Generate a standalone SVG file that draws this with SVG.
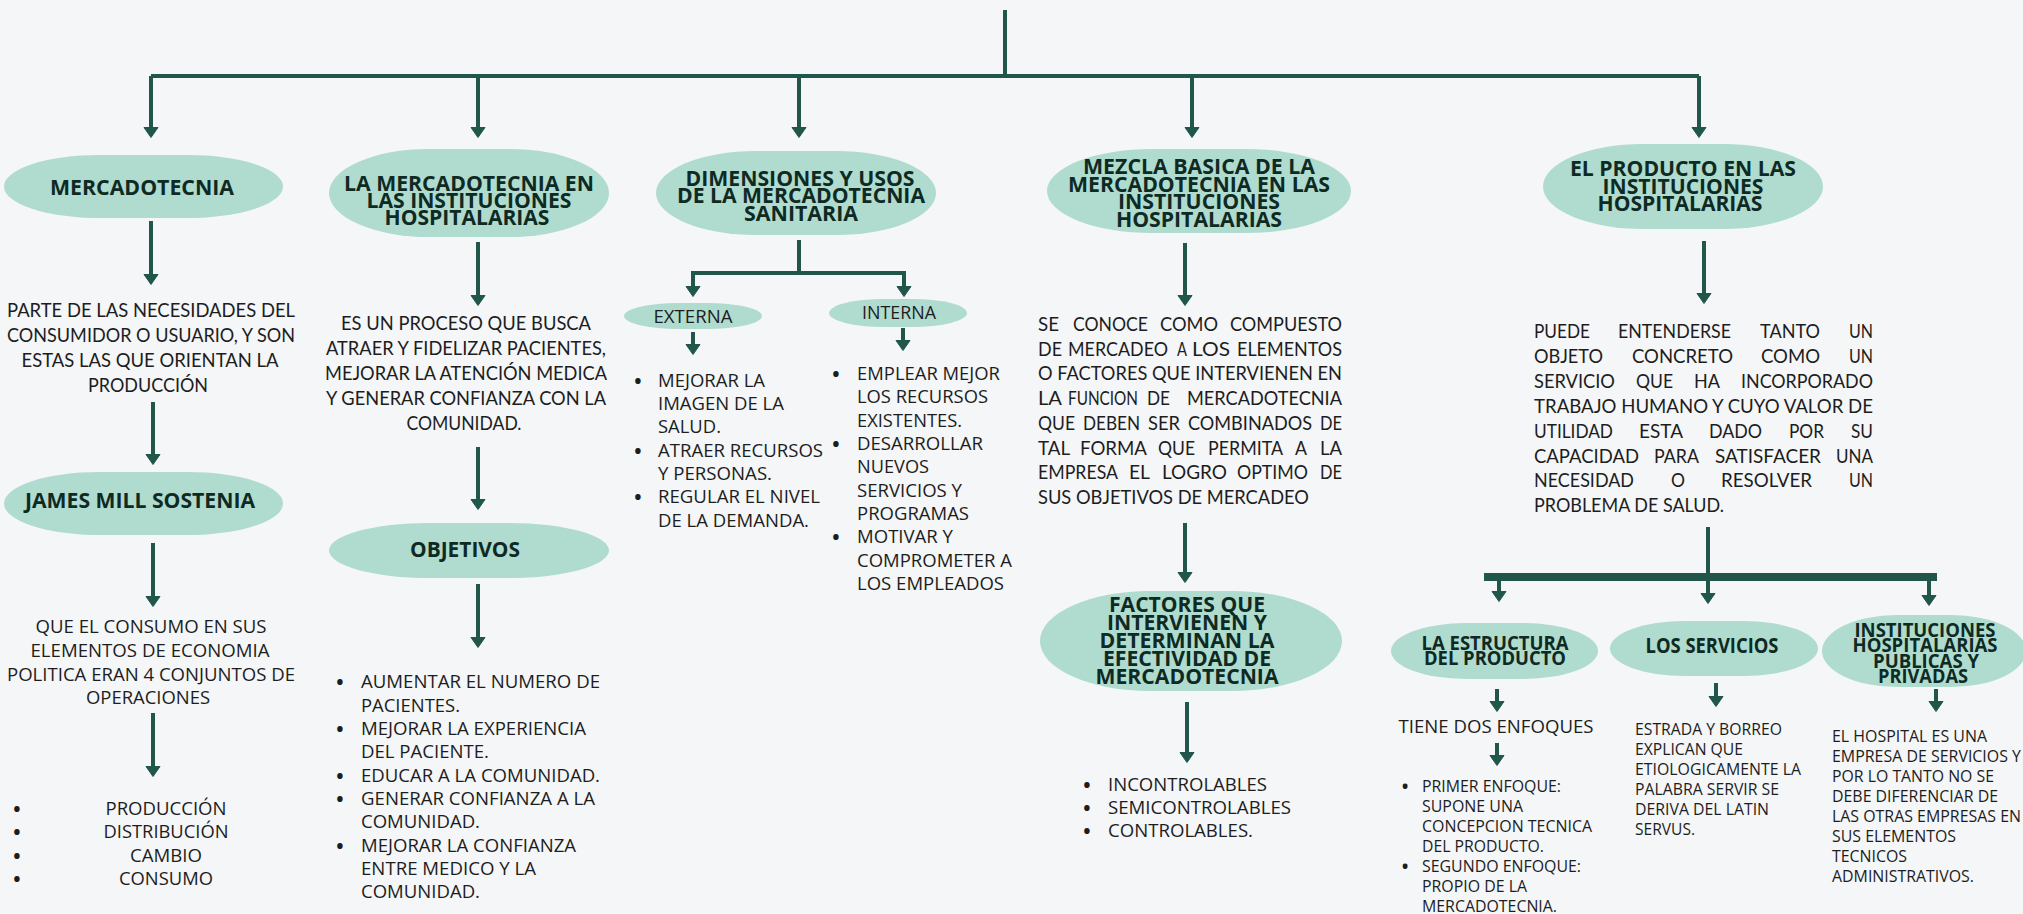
<svg xmlns="http://www.w3.org/2000/svg" width="2023" height="914" viewBox="0 0 2023 914">
<style>
.bg{fill:#f4f6f8}
.nd{fill:#b0dbcf}
.t{font-family:"Open Sans","Liberation Sans",sans-serif;font-weight:700;fill:#0e2a23;text-anchor:middle;font-size:21px}
.ts{font-size:19.5px}
.g{font-family:Lato,"Liberation Sans",sans-serif;font-size:19px;fill:#1d1d1d}
.o{font-family:"Open Sans","Liberation Sans",sans-serif;font-size:18.6px;fill:#1d1d1d}
.s{font-family:"Open Sans","Liberation Sans",sans-serif;font-size:16.4px;fill:#1d1d1d}
.b{font-family:"Open Sans","Liberation Sans",sans-serif;font-size:26px;fill:#1d1d1d;text-anchor:middle}
.bs{font-size:23px}
.m{text-anchor:middle}
.c{stroke:#21564a;stroke-width:4;fill:none}
.a{marker-end:url(#ah)}
</style>
<defs>
<marker id="ah" viewBox="0 0 11 16" refX="3" refY="8" markerWidth="11" markerHeight="16" markerUnits="userSpaceOnUse" orient="auto">
<path d="M0.5,1 L10.5,8 L0.5,15 z" fill="#21564a" stroke="#21564a" stroke-width="1" stroke-linejoin="round"/>
</marker>
</defs>
<rect class="bg" x="0" y="0" width="2023" height="914"/>

<g id="connectors">
<path class="c" d="M1005,10 V76"/>
<path class="c" d="M151,76 H1699"/>
<path class="c a" d="M151,76 V130"/>
<path class="c a" d="M478,76 V130"/>
<path class="c a" d="M799,76 V130"/>
<path class="c a" d="M1192,76 V130"/>
<path class="c a" d="M1699,76 V130"/>
<path class="c a" d="M151,221 V277"/>
<path class="c a" d="M153,402 V457"/>
<path class="c a" d="M153,543 V599"/>
<path class="c a" d="M153,713 V769"/>
<path class="c a" d="M478,242 V298"/>
<path class="c a" d="M478,447 V502"/>
<path class="c a" d="M478,584 V640"/>
<path class="c" d="M799,240 V273"/>
<path class="c a" d="M799,273 H693 V289"/>
<path class="c a" d="M799,273 H904 V289"/>
<path class="c a" d="M693,332 V347"/>
<path class="c a" d="M903,328 V343"/>
<path class="c a" d="M1185,243 V298"/>
<path class="c a" d="M1185,523 V575"/>
<path class="c a" d="M1187,702 V755"/>
<path class="c a" d="M1704,241 V296"/>
<path class="c" d="M1708,527 V577"/>
<rect x="1484" y="573" width="453" height="8" fill="#21564a"/>
<path class="c a" d="M1499,580 V594"/>
<path class="c a" d="M1708,580 V596"/>
<path class="c a" d="M1929,580 V598"/>
<path class="c a" d="M1497,689 V704"/>
<path class="c a" d="M1716,683 V699"/>
<path class="c a" d="M1936,689 V704"/>
<path class="c a" d="M1497,743 V758"/>
</g>

<g id="n-mercadotecnia">
<rect class="nd" x="4" y="155" width="279" height="63" rx="95" ry="31.5"/>
<text class="t" x="142" y="195" textLength="184" lengthAdjust="spacingAndGlyphs">MERCADOTECNIA</text>
</g>
<g id="n-parte">
<text class="g m" x="151" y="317" textLength="288" lengthAdjust="spacingAndGlyphs">PARTE DE LAS NECESIDADES DEL</text>
<text class="g m" x="151" y="342" textLength="288" lengthAdjust="spacingAndGlyphs">CONSUMIDOR O USUARIO, Y SON</text>
<text class="g m" x="150" y="367" textLength="257" lengthAdjust="spacingAndGlyphs">ESTAS LAS QUE ORIENTAN LA</text>
<text class="g m" x="148" y="392" textLength="120" lengthAdjust="spacingAndGlyphs">PRODUCCIÓN</text>
</g>
<g id="n-james">
<rect class="nd" x="4" y="472" width="279" height="63" rx="95" ry="31.5"/>
<text class="t" x="140" y="508" textLength="230" lengthAdjust="spacingAndGlyphs">JAMES MILL SOSTENIA</text>
</g>
<g id="n-que">
<text class="o m" x="151" y="633" textLength="231" lengthAdjust="spacingAndGlyphs">QUE EL CONSUMO EN SUS</text>
<text class="o m" x="150" y="657" textLength="239" lengthAdjust="spacingAndGlyphs">ELEMENTOS DE ECONOMIA</text>
<text class="o m" x="151" y="681" textLength="288" lengthAdjust="spacingAndGlyphs">POLITICA ERAN 4 CONJUNTOS DE</text>
<text class="o m" x="148" y="704" textLength="124" lengthAdjust="spacingAndGlyphs">OPERACIONES</text>
</g>
<g id="n-operaciones">
<text class="b" x="17" y="818">•</text>
<text class="b" x="17" y="841">•</text>
<text class="b" x="17" y="865">•</text>
<text class="b" x="17" y="888">•</text>
<text class="o m" x="166" y="815" textLength="121" lengthAdjust="spacingAndGlyphs">PRODUCCIÓN</text>
<text class="o m" x="166" y="838" textLength="125" lengthAdjust="spacingAndGlyphs">DISTRIBUCIÓN</text>
<text class="o m" x="166" y="862" textLength="72" lengthAdjust="spacingAndGlyphs">CAMBIO</text>
<text class="o m" x="166" y="885" textLength="94" lengthAdjust="spacingAndGlyphs">CONSUMO</text>
</g>

<g id="n-instituciones-hosp">
<rect class="nd" x="329" y="149" width="280" height="88" rx="100" ry="44"/>
<text class="t" x="469" y="191" textLength="250" lengthAdjust="spacingAndGlyphs">LA MERCADOTECNIA EN</text>
<text class="t" x="469" y="208" textLength="205" lengthAdjust="spacingAndGlyphs">LAS INSTITUCIONES</text>
<text class="t" x="467" y="225" textLength="165" lengthAdjust="spacingAndGlyphs">HOSPITALARIAS</text>
</g>
<g id="n-proceso">
<text class="g m" x="466" y="330" textLength="250" lengthAdjust="spacingAndGlyphs">ES UN PROCESO QUE BUSCA</text>
<text class="g m" x="466" y="355" textLength="280" lengthAdjust="spacingAndGlyphs">ATRAER Y FIDELIZAR PACIENTES,</text>
<text class="g m" x="466" y="380" textLength="282" lengthAdjust="spacingAndGlyphs">MEJORAR LA ATENCIÓN MEDICA</text>
<text class="g m" x="466" y="405" textLength="280" lengthAdjust="spacingAndGlyphs">Y GENERAR CONFIANZA CON LA</text>
<text class="g m" x="464" y="430" textLength="115" lengthAdjust="spacingAndGlyphs">COMUNIDAD.</text>
</g>
<g id="n-objetivos">
<rect class="nd" x="329" y="523" width="280" height="55" rx="100" ry="27.5"/>
<text class="t" x="465" y="557" textLength="110" lengthAdjust="spacingAndGlyphs">OBJETIVOS</text>
</g>
<g id="n-objetivos-list">
<text class="b" x="340" y="691">•</text>
<text class="b" x="340" y="738">•</text>
<text class="b" x="340" y="785">•</text>
<text class="b" x="340" y="808">•</text>
<text class="b" x="340" y="855">•</text>
<text class="o" x="361" y="688" textLength="239" lengthAdjust="spacingAndGlyphs">AUMENTAR EL NUMERO DE</text>
<text class="o" x="361" y="712" textLength="99" lengthAdjust="spacingAndGlyphs">PACIENTES.</text>
<text class="o" x="361" y="735" textLength="225" lengthAdjust="spacingAndGlyphs">MEJORAR LA EXPERIENCIA</text>
<text class="o" x="361" y="758" textLength="128" lengthAdjust="spacingAndGlyphs">DEL PACIENTE.</text>
<text class="o" x="361" y="782" textLength="239" lengthAdjust="spacingAndGlyphs">EDUCAR A LA COMUNIDAD.</text>
<text class="o" x="361" y="805" textLength="234" lengthAdjust="spacingAndGlyphs">GENERAR CONFIANZA A LA</text>
<text class="o" x="361" y="828" textLength="119" lengthAdjust="spacingAndGlyphs">COMUNIDAD.</text>
<text class="o" x="361" y="852" textLength="215" lengthAdjust="spacingAndGlyphs">MEJORAR LA CONFIANZA</text>
<text class="o" x="361" y="875" textLength="175" lengthAdjust="spacingAndGlyphs">ENTRE MEDICO Y LA</text>
<text class="o" x="361" y="898" textLength="119" lengthAdjust="spacingAndGlyphs">COMUNIDAD.</text>
</g>

<g id="n-dimensiones">
<rect class="nd" x="656" y="151" width="280" height="84" rx="100" ry="42"/>
<text class="t" x="800" y="186" textLength="229" lengthAdjust="spacingAndGlyphs">DIMENSIONES Y USOS</text>
<text class="t" x="801" y="203" textLength="248" lengthAdjust="spacingAndGlyphs">DE LA MERCADOTECNIA</text>
<text class="t" x="801" y="221" textLength="114" lengthAdjust="spacingAndGlyphs">SANITARIA</text>
</g>
<g id="n-externa">
<rect class="nd" x="624" y="303" width="138" height="26" rx="55" ry="13"/>
<text class="o m" x="693" y="323" font-size="18" textLength="79" lengthAdjust="spacingAndGlyphs">EXTERNA</text>
</g>
<g id="n-interna">
<rect class="nd" x="829" y="299" width="138" height="28" rx="55" ry="14"/>
<text class="o m" x="899" y="319" font-size="18" textLength="74" lengthAdjust="spacingAndGlyphs">INTERNA</text>
</g>
<g id="n-externa-list">
<text class="b" x="638" y="390">•</text>
<text class="b" x="638" y="460">•</text>
<text class="b" x="638" y="506">•</text>
<text class="o" x="658" y="387" textLength="107" lengthAdjust="spacingAndGlyphs">MEJORAR LA</text>
<text class="o" x="658" y="410" textLength="126" lengthAdjust="spacingAndGlyphs">IMAGEN DE LA</text>
<text class="o" x="658" y="433" textLength="63" lengthAdjust="spacingAndGlyphs">SALUD.</text>
<text class="o" x="658" y="457" textLength="165" lengthAdjust="spacingAndGlyphs">ATRAER RECURSOS</text>
<text class="o" x="658" y="480" textLength="114" lengthAdjust="spacingAndGlyphs">Y PERSONAS.</text>
<text class="o" x="658" y="503" textLength="162" lengthAdjust="spacingAndGlyphs">REGULAR EL NIVEL</text>
<text class="o" x="658" y="527" textLength="151" lengthAdjust="spacingAndGlyphs">DE LA DEMANDA.</text>
</g>
<g id="n-interna-list">
<text class="b" x="836" y="383">•</text>
<text class="b" x="836" y="453">•</text>
<text class="b" x="836" y="546">•</text>
<text class="o" x="857" y="380" textLength="143" lengthAdjust="spacingAndGlyphs">EMPLEAR MEJOR</text>
<text class="o" x="857" y="403" textLength="131" lengthAdjust="spacingAndGlyphs">LOS RECURSOS</text>
<text class="o" x="857" y="427" textLength="105" lengthAdjust="spacingAndGlyphs">EXISTENTES.</text>
<text class="o" x="857" y="450" textLength="126" lengthAdjust="spacingAndGlyphs">DESARROLLAR</text>
<text class="o" x="857" y="473" textLength="72" lengthAdjust="spacingAndGlyphs">NUEVOS</text>
<text class="o" x="857" y="497" textLength="105" lengthAdjust="spacingAndGlyphs">SERVICIOS Y</text>
<text class="o" x="857" y="520" textLength="112" lengthAdjust="spacingAndGlyphs">PROGRAMAS</text>
<text class="o" x="857" y="543" textLength="96" lengthAdjust="spacingAndGlyphs">MOTIVAR Y</text>
<text class="o" x="857" y="567" textLength="155" lengthAdjust="spacingAndGlyphs">COMPROMETER A</text>
<text class="o" x="857" y="590" textLength="147" lengthAdjust="spacingAndGlyphs">LOS EMPLEADOS</text>
</g>

<g id="n-mezcla">
<rect class="nd" x="1047" y="149" width="304" height="84" rx="105" ry="42"/>
<text class="t" x="1199" y="174" textLength="232" lengthAdjust="spacingAndGlyphs">MEZCLA BASICA DE LA</text>
<text class="t" x="1199" y="192" textLength="262" lengthAdjust="spacingAndGlyphs">MERCADOTECNIA EN LAS</text>
<text class="t" x="1199" y="209" textLength="162" lengthAdjust="spacingAndGlyphs">INSTITUCIONES</text>
<text class="t" x="1199" y="227" textLength="166" lengthAdjust="spacingAndGlyphs">HOSPITALARIAS</text>
</g>
<g id="n-compuesto">
<text class="g" x="1038" y="331" textLength="21" lengthAdjust="spacingAndGlyphs">SE</text>
<text class="g" x="1073" y="331" textLength="75" lengthAdjust="spacingAndGlyphs">CONOCE</text>
<text class="g" x="1160" y="331" textLength="58" lengthAdjust="spacingAndGlyphs">COMO</text>
<text class="g" x="1230" y="331" textLength="112" lengthAdjust="spacingAndGlyphs">COMPUESTO</text>
<text class="g" x="1038" y="356" textLength="24" lengthAdjust="spacingAndGlyphs">DE</text>
<text class="g" x="1068" y="356" textLength="100" lengthAdjust="spacingAndGlyphs">MERCADEO</text>
<text class="g" x="1177" y="356" textLength="10" lengthAdjust="spacingAndGlyphs">A</text>
<text class="g" x="1192" y="356" textLength="38" lengthAdjust="spacingAndGlyphs">LOS</text>
<text class="g" x="1237" y="356" textLength="105" lengthAdjust="spacingAndGlyphs">ELEMENTOS</text>
<text class="g" x="1038" y="380" textLength="304" lengthAdjust="spacingAndGlyphs">O FACTORES QUE INTERVIENEN EN</text>
<text class="g" x="1038" y="405" textLength="24" lengthAdjust="spacingAndGlyphs">LA</text>
<text class="g" x="1068" y="405" textLength="70" lengthAdjust="spacingAndGlyphs">FUNCION</text>
<text class="g" x="1147" y="405" textLength="23" lengthAdjust="spacingAndGlyphs">DE</text>
<text class="g" x="1187" y="405" textLength="155" lengthAdjust="spacingAndGlyphs">MERCADOTECNIA</text>
<text class="g" x="1038" y="430" textLength="37" lengthAdjust="spacingAndGlyphs">QUE</text>
<text class="g" x="1083" y="430" textLength="57" lengthAdjust="spacingAndGlyphs">DEBEN</text>
<text class="g" x="1148" y="430" textLength="32" lengthAdjust="spacingAndGlyphs">SER</text>
<text class="g" x="1188" y="430" textLength="124" lengthAdjust="spacingAndGlyphs">COMBINADOS</text>
<text class="g" x="1320" y="430" textLength="22" lengthAdjust="spacingAndGlyphs">DE</text>
<text class="g" x="1038" y="455" textLength="32" lengthAdjust="spacingAndGlyphs">TAL</text>
<text class="g" x="1080" y="455" textLength="67" lengthAdjust="spacingAndGlyphs">FORMA</text>
<text class="g" x="1158" y="455" textLength="37" lengthAdjust="spacingAndGlyphs">QUE</text>
<text class="g" x="1208" y="455" textLength="75" lengthAdjust="spacingAndGlyphs">PERMITA</text>
<text class="g" x="1295" y="455" textLength="12" lengthAdjust="spacingAndGlyphs">A</text>
<text class="g" x="1320" y="455" textLength="22" lengthAdjust="spacingAndGlyphs">LA</text>
<text class="g" x="1038" y="479" textLength="80" lengthAdjust="spacingAndGlyphs">EMPRESA</text>
<text class="g" x="1129" y="479" textLength="21" lengthAdjust="spacingAndGlyphs">EL</text>
<text class="g" x="1162" y="479" textLength="65" lengthAdjust="spacingAndGlyphs">LOGRO</text>
<text class="g" x="1237" y="479" textLength="71" lengthAdjust="spacingAndGlyphs">OPTIMO</text>
<text class="g" x="1320" y="479" textLength="22" lengthAdjust="spacingAndGlyphs">DE</text>
<text class="g" x="1038" y="504" textLength="271" lengthAdjust="spacingAndGlyphs">SUS OBJETIVOS DE MERCADEO</text>
</g>
<g id="n-factores">
<rect class="nd" x="1040" y="591" width="302" height="100" rx="110" ry="50"/>
<text class="t" x="1187" y="612" textLength="156" lengthAdjust="spacingAndGlyphs">FACTORES QUE</text>
<text class="t" x="1187" y="630" textLength="160" lengthAdjust="spacingAndGlyphs">INTERVIENEN Y</text>
<text class="t" x="1187" y="648" textLength="175" lengthAdjust="spacingAndGlyphs">DETERMINAN LA</text>
<text class="t" x="1187" y="666" textLength="168" lengthAdjust="spacingAndGlyphs">EFECTIVIDAD DE</text>
<text class="t" x="1187" y="684" textLength="183" lengthAdjust="spacingAndGlyphs">MERCADOTECNIA</text>
</g>
<g id="n-factores-list">
<text class="b" x="1087" y="794">•</text>
<text class="b" x="1087" y="817">•</text>
<text class="b" x="1087" y="840">•</text>
<text class="o" x="1108" y="791" textLength="159" lengthAdjust="spacingAndGlyphs">INCONTROLABLES</text>
<text class="o" x="1108" y="814" textLength="183" lengthAdjust="spacingAndGlyphs">SEMICONTROLABLES</text>
<text class="o" x="1108" y="837" textLength="145" lengthAdjust="spacingAndGlyphs">CONTROLABLES.</text>
</g>

<g id="n-producto">
<rect class="nd" x="1543" y="144" width="280" height="85" rx="100" ry="42.5"/>
<text class="t" x="1683" y="176" textLength="226" lengthAdjust="spacingAndGlyphs">EL PRODUCTO EN LAS</text>
<text class="t" x="1683" y="194" textLength="161" lengthAdjust="spacingAndGlyphs">INSTITUCIONES</text>
<text class="t" x="1680" y="211" textLength="165" lengthAdjust="spacingAndGlyphs">HOSPITALARIAS</text>
</g>
<g id="n-puede">
<text class="g" x="1534" y="338" textLength="56" lengthAdjust="spacingAndGlyphs">PUEDE</text>
<text class="g" x="1618" y="338" textLength="113" lengthAdjust="spacingAndGlyphs">ENTENDERSE</text>
<text class="g" x="1760" y="338" textLength="60" lengthAdjust="spacingAndGlyphs">TANTO</text>
<text class="g" x="1849" y="338" textLength="24" lengthAdjust="spacingAndGlyphs">UN</text>
<text class="g" x="1534" y="363" textLength="69" lengthAdjust="spacingAndGlyphs">OBJETO</text>
<text class="g" x="1632" y="363" textLength="101" lengthAdjust="spacingAndGlyphs">CONCRETO</text>
<text class="g" x="1761" y="363" textLength="59" lengthAdjust="spacingAndGlyphs">COMO</text>
<text class="g" x="1849" y="363" textLength="24" lengthAdjust="spacingAndGlyphs">UN</text>
<text class="g" x="1534" y="388" textLength="81" lengthAdjust="spacingAndGlyphs">SERVICIO</text>
<text class="g" x="1636" y="388" textLength="37" lengthAdjust="spacingAndGlyphs">QUE</text>
<text class="g" x="1694" y="388" textLength="26" lengthAdjust="spacingAndGlyphs">HA</text>
<text class="g" x="1741" y="388" textLength="132" lengthAdjust="spacingAndGlyphs">INCORPORADO</text>
<text class="g" x="1534" y="413" textLength="339" lengthAdjust="spacingAndGlyphs">TRABAJO HUMANO Y CUYO VALOR DE</text>
<text class="g" x="1534" y="438" textLength="79" lengthAdjust="spacingAndGlyphs">UTILIDAD</text>
<text class="g" x="1639" y="438" textLength="44" lengthAdjust="spacingAndGlyphs">ESTA</text>
<text class="g" x="1709" y="438" textLength="53" lengthAdjust="spacingAndGlyphs">DADO</text>
<text class="g" x="1789" y="438" textLength="35" lengthAdjust="spacingAndGlyphs">POR</text>
<text class="g" x="1851" y="438" textLength="22" lengthAdjust="spacingAndGlyphs">SU</text>
<text class="g" x="1534" y="463" textLength="105" lengthAdjust="spacingAndGlyphs">CAPACIDAD</text>
<text class="g" x="1654" y="463" textLength="45" lengthAdjust="spacingAndGlyphs">PARA</text>
<text class="g" x="1715" y="463" textLength="106" lengthAdjust="spacingAndGlyphs">SATISFACER</text>
<text class="g" x="1836" y="463" textLength="37" lengthAdjust="spacingAndGlyphs">UNA</text>
<text class="g" x="1534" y="487" textLength="100" lengthAdjust="spacingAndGlyphs">NECESIDAD</text>
<text class="g" x="1671" y="487" textLength="14" lengthAdjust="spacingAndGlyphs">O</text>
<text class="g" x="1721" y="487" textLength="91" lengthAdjust="spacingAndGlyphs">RESOLVER</text>
<text class="g" x="1849" y="487" textLength="24" lengthAdjust="spacingAndGlyphs">UN</text>
<text class="g" x="1534" y="512" textLength="190" lengthAdjust="spacingAndGlyphs">PROBLEMA DE SALUD.</text>
</g>

<g id="n-estructura">
<rect class="nd" x="1391" y="623" width="207" height="56" rx="75" ry="28"/>
<text class="t ts" x="1495" y="650" textLength="147" lengthAdjust="spacingAndGlyphs">LA ESTRUCTURA</text>
<text class="t ts" x="1495" y="665" textLength="142" lengthAdjust="spacingAndGlyphs">DEL PRODUCTO</text>
</g>
<g id="n-enfoques">
<text class="o m" x="1496" y="733" textLength="195" lengthAdjust="spacingAndGlyphs">TIENE DOS ENFOQUES</text>
</g>
<g id="n-enfoques-list">
<text class="b bs" x="1405" y="795">•</text>
<text class="b bs" x="1405" y="875">•</text>
<text class="s" x="1422" y="792" textLength="139" lengthAdjust="spacingAndGlyphs">PRIMER ENFOQUE:</text>
<text class="s" x="1422" y="812" textLength="101" lengthAdjust="spacingAndGlyphs">SUPONE UNA</text>
<text class="s" x="1422" y="832" textLength="170" lengthAdjust="spacingAndGlyphs">CONCEPCION TECNICA</text>
<text class="s" x="1422" y="852" textLength="122" lengthAdjust="spacingAndGlyphs">DEL PRODUCTO.</text>
<text class="s" x="1422" y="872" textLength="159" lengthAdjust="spacingAndGlyphs">SEGUNDO ENFOQUE:</text>
<text class="s" x="1422" y="892" textLength="105" lengthAdjust="spacingAndGlyphs">PROPIO DE LA</text>
<text class="s" x="1422" y="912" textLength="135" lengthAdjust="spacingAndGlyphs">MERCADOTECNIA.</text>
</g>
<g id="n-servicios">
<rect class="nd" x="1610" y="621" width="208" height="55" rx="75" ry="27.5"/>
<text class="t" x="1712" y="653" font-size="20" textLength="133" lengthAdjust="spacingAndGlyphs">LOS SERVICIOS</text>
</g>
<g id="n-estrada">
<text class="s" x="1635" y="735" textLength="147" lengthAdjust="spacingAndGlyphs">ESTRADA Y BORREO</text>
<text class="s" x="1635" y="755" textLength="108" lengthAdjust="spacingAndGlyphs">EXPLICAN QUE</text>
<text class="s" x="1635" y="775" textLength="166" lengthAdjust="spacingAndGlyphs">ETIOLOGICAMENTE LA</text>
<text class="s" x="1635" y="795" textLength="144" lengthAdjust="spacingAndGlyphs">PALABRA SERVIR SE</text>
<text class="s" x="1635" y="815" textLength="134" lengthAdjust="spacingAndGlyphs">DERIVA DEL LATIN</text>
<text class="s" x="1635" y="835" textLength="60" lengthAdjust="spacingAndGlyphs">SERVUS.</text>
</g>
<g id="n-publicas">
<rect class="nd" x="1822" y="615" width="204" height="72" rx="75" ry="36"/>
<text class="t ts" x="1925" y="637" textLength="141" lengthAdjust="spacingAndGlyphs">INSTITUCIONES</text>
<text class="t ts" x="1925" y="652" textLength="145" lengthAdjust="spacingAndGlyphs">HOSPITALARIAS</text>
<text class="t ts" x="1926" y="668" textLength="106" lengthAdjust="spacingAndGlyphs">PUBLICAS Y</text>
<text class="t ts" x="1923" y="683" textLength="90" lengthAdjust="spacingAndGlyphs">PRIVADAS</text>
</g>
<g id="n-hospital">
<text class="s" x="1832" y="742" textLength="155" lengthAdjust="spacingAndGlyphs">EL HOSPITAL ES UNA</text>
<text class="s" x="1832" y="762" textLength="189" lengthAdjust="spacingAndGlyphs">EMPRESA DE SERVICIOS Y</text>
<text class="s" x="1832" y="782" textLength="162" lengthAdjust="spacingAndGlyphs">POR LO TANTO NO SE</text>
<text class="s" x="1832" y="802" textLength="166" lengthAdjust="spacingAndGlyphs">DEBE DIFERENCIAR DE</text>
<text class="s" x="1832" y="822" textLength="189" lengthAdjust="spacingAndGlyphs">LAS OTRAS EMPRESAS EN</text>
<text class="s" x="1832" y="842" textLength="124" lengthAdjust="spacingAndGlyphs">SUS ELEMENTOS</text>
<text class="s" x="1832" y="862" textLength="75" lengthAdjust="spacingAndGlyphs">TECNICOS</text>
<text class="s" x="1832" y="882" textLength="142" lengthAdjust="spacingAndGlyphs">ADMINISTRATIVOS.</text>
</g>
</svg>
